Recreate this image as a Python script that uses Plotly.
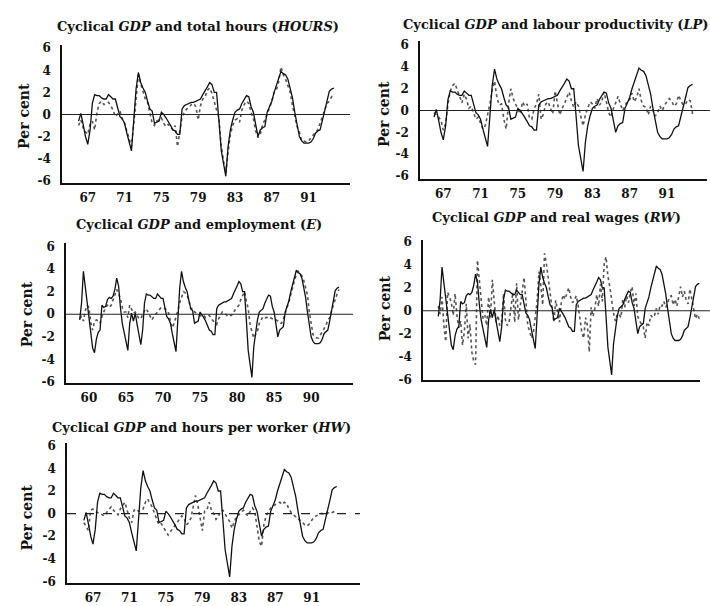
import pandas as pd
import plotly.graph_objects as go

W, H = 710, 606
FONT = "DejaVu Serif"


def quarters(start, end):
    per = pd.period_range(start, end, freq="Q")
    return [p.year + (p.quarter - 1) / 4 for p in per]


long_q = quarters("1958Q4", "1993Q4")
short_q = quarters("1966Q1", "1993Q4")

# Cyclical GDP, per cent deviation from trend, 1958Q4-1993Q4
gdp = [
    -0.5,
    1.0, 3.8, 2.4, 0.8,
    -0.5, -2.0, -3.0, -3.4,
    -2.2, -1.6, -1.4, 0.8,
    0.6, 0.7, 1.3, 1.5,
    1.4, 1.6, 2.2, 3.2,
    2.5, 0.6, -0.8, -1.6,
    -2.4, -3.2, -0.8, 0.1,
    -0.6, 0.1, -0.9, -2.0,
    -2.7, -1.4, 1.0, 1.8,
    1.7, 1.7, 1.5, 1.4,
    1.4, 1.8, 1.6, 1.4,
    1.4, 0.6, -0.2, -0.4,
    -0.8, -1.7, -2.6, -3.3,
    -0.5, 2.3, 3.8, 2.9,
    2.4, 2.0, 1.2, 0.5,
    0.3, -0.8, -0.7, -0.6,
    0.2, 0.0, -0.3, -0.6,
    -1.0, -1.4, -1.5, -1.8,
    -1.8, 0.5, 0.8, 0.9,
    1.0, 1.1, 1.1, 1.2,
    1.3, 1.4, 1.8, 2.1,
    2.5, 2.9, 2.7, 2.0,
    2.0, -0.5, -3.2, -4.4,
    -5.6, -2.9, -1.4, -0.5,
    0.2, 0.4, 0.5, 1.0,
    1.4, 1.7, 1.6, 0.7,
    0.2, -1.0, -2.0, -1.4,
    -1.2, -1.1, 0.2, 0.7,
    1.2, 2.0, 2.6, 3.3,
    3.9, 3.7, 3.6, 3.2,
    2.3, 1.5, 0.2, -0.8,
    -2.0, -2.4, -2.6, -2.6,
    -2.6, -2.5, -2.2, -1.7,
    -1.5, -1.4, -0.6, 0.2,
    1.2, 2.1, 2.3, 2.4,
]
gdp_short = gdp[29:]  # from 1966Q1

# Total hours, 1966Q1-1993Q4
hours = [
    -1.0, -0.5, -1.2, -1.6,
    -1.8, -0.9, -0.6, -1.4,
    0.2, 1.0, 1.2, 0.9,
    1.0, 1.1, 0.8, 0.4,
    -0.2, 0.1, 0.3, -0.4,
    -0.8, -1.5, -2.2, -2.9,
    -0.8, 1.8, 3.6, 2.8,
    2.0, 1.4, 1.1, 0.2,
    -0.8, -1.0, -0.6, -0.5,
    -0.3, -0.8, -1.1, -0.9,
    -1.2, -1.4, -1.0, -2.9,
    -1.6, -0.2, 0.2, 0.5,
    0.6, 0.9, 1.0, 0.7,
    -0.5, 0.8, 1.4, 1.6,
    2.2, 2.4, 1.9, 1.0,
    0.4, -0.3, -2.8, -4.2,
    -5.3, -3.4, -1.8, -1.0,
    -0.5, -0.4, -0.7, 0.4,
    0.9, 1.2, 1.0, 0.2,
    -0.4, -1.5, -2.1, -1.8,
    -0.9, -0.5, 0.0, 0.6,
    1.2, 2.0, 2.2, 3.0,
    4.3, 3.6, 3.2, 2.6,
    2.0, 0.8, -0.2, -1.1,
    -1.6, -2.4, -2.4, -2.5,
    -2.4, -2.1, -1.9, -1.6,
    -1.4, -0.8, -0.2, 0.4,
    1.0, 1.2, 1.6, 1.4,
]

# Labour productivity, 1966Q1-1993Q4
lp = [
    -0.2, -0.4, -0.6, -0.9,
    -1.8, -1.2, 0.6, 1.8,
    2.3, 2.5, 1.9, 1.2,
    0.7, 1.5, 1.0, 0.2,
    0.4, -0.2, -0.8, -0.6,
    -1.2, -1.7, -1.4, -0.5,
    0.6, 1.9, 2.7, 1.2,
    0.5, 0.6, -0.8, -1.7,
    0.6, 2.0, 1.1, 0.6,
    0.2, -0.3, 0.8, 0.4,
    0.6, -0.7, -0.8, 0.2,
    0.6, 1.5, -0.8, -0.3,
    0.6, 0.8, 0.2, -0.3,
    1.8, 0.6, -0.4, 0.2,
    0.6, 1.2, 1.7, 0.9,
    0.3, 0.8, 0.4, -0.5,
    -1.4, -0.4, 0.3, 0.8,
    0.6, 0.2, 1.1, 0.5,
    0.8, 1.7, 0.8, -0.2,
    -0.6, 0.2, 0.7, 1.3,
    0.6, 0.0, 0.4, 0.9,
    1.0, 1.6, 0.8, 1.2,
    2.0, 0.9, 0.4, 0.3,
    -0.4, 0.4, 0.0, -0.5,
    -0.2, 0.4, 0.0, 0.5,
    0.8, 1.1, 0.9, 0.4,
    0.6, 1.4, 0.9, 0.5,
    0.6, 1.0, 0.9, -0.3,
]

# Employment, 1958Q4-1993Q4
emp = [
    -0.4,
    -0.2, -0.6, 0.3, 0.8,
    0.6, -0.8, -1.4, -0.6,
    -0.5, -0.6, -0.8, -0.2,
    0.3, 0.6, 0.8, 0.6,
    0.8, 1.3, 1.8, 2.2,
    1.8, 1.4, 0.6, 0.2,
    0.2, -0.3, 0.8, 0.4,
    0.1, 0.2, -0.1, -0.4,
    -0.4, 0.0, 0.3, 0.5,
    0.2, -0.2, -0.5, -0.2,
    0.0, 0.2, 0.4, 0.6,
    0.5, 0.5, 0.4, 0.1,
    -0.6, -1.2, -0.8, -0.3,
    0.3, 1.0, 1.6, 2.0,
    1.9, 1.7, 1.2, 0.5,
    0.5, 0.2, 0.1, 0.0,
    -0.1, -0.2, -0.1, -0.3,
    -0.2, -0.1, -0.4, -0.6,
    -0.8, -0.9, -0.4, -0.1,
    0.2, 0.1, 0.0, -0.2,
    -0.1, -0.1, 0.2, 0.4,
    0.6, 0.8, 1.3, 1.7,
    2.0, 1.2, 0.5, -0.9,
    -1.6, -2.1, -1.8, -1.5,
    -0.8, -0.5, -0.2, -0.3,
    -0.3, -0.2, -0.3, -0.4,
    -0.5, -0.5, -0.6, -0.8,
    -0.8, -0.4, 0.2, 0.6,
    1.1, 1.8, 2.5, 3.0,
    3.5, 3.8, 3.6, 3.4,
    3.0, 2.4, 1.7, 0.2,
    -0.8, -1.8, -2.0, -2.1,
    -2.1, -1.8, -1.5, -1.3,
    -1.0, -0.5, -0.3, 0.3,
    0.8, 1.5, 1.8, 2.2,
]

# Real wages, 1958Q4-1993Q4
rw = [
    0.4,
    -0.3, 1.2, -1.3, -2.7,
    1.6, 1.2, 0.7, -0.4,
    1.5, -0.4, -1.5, -0.9,
    -3.0, -1.8, 0.6, -2.4,
    -1.2, -3.6, -4.4, -4.7,
    4.4, 2.7, 0.9, -0.7,
    -0.4, -1.3, 1.2, -0.6,
    2.7, 0.9, -1.0, -0.4,
    -1.3, -1.0, 1.5, -0.8,
    -1.3, -1.0, 0.4, 1.6,
    -1.0, 2.4, -0.8, 0.3,
    1.8, 2.9, 0.9, -1.3,
    -1.8, -2.4, -1.9, -0.6,
    0.8, 3.4, 2.2, 0.5,
    5.0, 4.1, 2.9, 1.5,
    0.2, -1.0, 0.9, -0.1,
    -1.0, 0.7, 1.4, 1.0,
    1.6, 2.0, 1.2, 0.7,
    0.9, 1.3, 0.5, -0.9,
    -1.9, -2.4, -0.6, -1.3,
    -3.6, 0.3, -0.5, 0.2,
    1.4, 0.4, 2.3, 0.8,
    4.1, 4.7, 3.0, 2.1,
    0.7, -0.2, -0.9, -0.3,
    -0.3, -0.6, 1.0, 0.3,
    1.3, 0.7, 1.6, 2.1,
    0.4, 1.5, -0.5, -0.9,
    -1.2, -1.4, -2.4, -1.0,
    -1.3, -0.4, -0.6, -0.4,
    0.2, -0.3, 0.5, 0.4,
    0.8, 0.3, 0.6, 1.2,
    1.3, 0.5, 1.0, 0.4,
    1.4, 2.1, 1.2, 1.7,
    0.9, 0.6, 1.9, 1.1,
    0.4, -0.7, -0.3, -0.7,
]

# Hours per worker, 1966Q1-1993Q4
hw = [
    -0.8, -1.2, -1.5, 0.3,
    0.4, 0.2, 0.1, 0.0,
    -0.1, -0.2, 0.1, 0.4,
    0.6, 0.3, 0.1, -0.1,
    0.4, 0.7, 1.0, 0.3,
    -0.4, -0.8, 0.3, 0.4,
    0.2, 0.3, 0.4, 1.0,
    1.3, 0.9, 0.6, 0.0,
    -0.5, -1.0, -0.9, -1.2,
    -1.5, -1.9, -1.6, -1.3,
    -1.1, -0.8, -0.5, -0.2,
    -0.4, -1.0, -0.8, -0.4,
    0.6, 1.6, 0.8, -0.2,
    -1.5, 0.2, 0.3, 1.0,
    0.3, 0.0, -0.5, -0.3,
    0.2, 0.3, 0.0, -0.4,
    -0.7, -1.3, -0.8, -0.2,
    -0.1, 0.1, 0.3, 0.0,
    -0.2, 0.2, 0.5, 0.2,
    -1.2, -2.5, -2.9, -1.0,
    -0.2, 0.2, 0.5, 0.7,
    0.8, 0.9, 1.0, 0.8,
    1.0, 0.9, 0.4, 0.1,
    -0.1, -0.3, -0.5, -0.6,
    -0.8, -1.0, -1.1, -0.9,
    -0.6, -0.3, -0.2, -0.1,
    0.0, 0.0, 0.1, 0.1,
    0.0, 0.1, 0.2, 0.1,
]

y_ticks = [-6, -4, -2, 0, 2, 4, 6]
y_labels = ["-6", "-4", "-2", "0", "2", "4", "6"]
x_ticks_a = [1967, 1971, 1975, 1979, 1983, 1987, 1991]
x_labels_a = ["67", "71", "75", "79", "83", "87", "91"]
x_ticks_b = [1960, 1965, 1970, 1975, 1980, 1985, 1990]
x_labels_b = ["60", "65", "70", "75", "80", "85", "90"]

panels = [
    dict(title="<b>Cyclical <i>GDP</i> and total hours (<i>HOURS</i>)</b>",
         x=short_q, a=gdp_short, b=hours,
         box=(62, 42, 350, 182), yr=[-6.18, 6.27], xr=[1964.2, 1995.5],
         xt=(x_ticks_a, x_labels_a), tpos=(198, 23), lpos=(24, 114),
         zero_end=1.0, zero_dash="solid"),
    dict(title="<b>Cyclical <i>GDP</i> and labour productivity (<i>LP</i>)</b>",
         x=short_q, a=gdp_short, b=lp,
         box=(420, 38, 707, 178), yr=[-6.27, 6.36], xr=[1964.5, 1995.3],
         xt=(x_ticks_a, x_labels_a), tpos=(555, 21), lpos=(384, 112),
         zero_end=1.01, zero_dash="solid"),
    dict(title="<b>Cyclical <i>GDP</i> and employment (<i>E</i>)</b>",
         x=long_q, a=gdp, b=emp,
         box=(66, 243, 353, 386), yr=[-6.09, 6.35], xr=[1956.9, 1995.65],
         xt=(x_ticks_b, x_labels_b), tpos=(199, 225), lpos=(27, 316),
         zero_end=1.0, zero_dash="solid"),
    dict(title="<b>Cyclical <i>GDP</i> and real wages (<i>RW</i>)</b>",
         x=long_q, a=gdp, b=rw,
         box=(423, 240, 700, 383), yr=[-6.05, 6.2], xr=[1956.7, 1993.85],
         xt=None, tpos=(556, 217), lpos=(385, 310),
         zero_end=1.036, zero_dash="solid"),
    dict(title="<b>Cyclical <i>GDP</i> and hours per worker (<i>HW</i>)</b>",
         x=short_q, a=gdp_short, b=hw,
         box=(67, 447, 360, 590), yr=[-6.17, 6.26], xr=[1964.15, 1996.3],
         xt=(x_ticks_a, x_labels_a), tpos=(201, 431), lpos=(27, 523),
         zero_end=1.0, zero_dash="dash"),
]

fig = go.Figure()
layout = dict(
    width=W, height=H,
    margin=dict(l=0, r=0, t=0, b=0),
    paper_bgcolor="white", plot_bgcolor="white",
    showlegend=False,
    font=dict(family=FONT, color="#111"),
    annotations=[], shapes=[],
)

tick_font = dict(family=FONT, size=12, color="#111", weight="bold")

for i, p in enumerate(panels, start=1):
    sfx = "" if i == 1 else str(i)
    xa, ya = "x" + sfx, "y" + sfx
    left, top, right, bottom = p["box"]

    fig.add_trace(go.Scatter(
        x=p["x"], y=p["b"], mode="lines", xaxis=xa, yaxis=ya,
        line=dict(color="#555", width=1.6, dash="dot"), hoverinfo="skip"))
    fig.add_trace(go.Scatter(
        x=p["x"], y=p["a"], mode="lines", xaxis=xa, yaxis=ya,
        line=dict(color="#111", width=1.3), hoverinfo="skip"))

    xaxis = dict(
        domain=[left / W, right / W], anchor=ya, range=p["xr"],
        showgrid=False, zeroline=False, showline=True,
        linecolor="#111", linewidth=1.6, ticks="",
        tickfont=tick_font, ticklabelstandoff=3, fixedrange=True,
    )
    if p["xt"] is None:
        xaxis["showticklabels"] = False
    else:
        xaxis["tickmode"] = "array"
        xaxis["tickvals"] = p["xt"][0]
        xaxis["ticktext"] = p["xt"][1]
    yaxis = dict(
        domain=[1 - bottom / H, 1 - top / H], anchor=xa, range=p["yr"],
        showgrid=False, zeroline=False, showline=True,
        linecolor="#111", linewidth=1.6, ticks="",
        tickmode="array", tickvals=y_ticks, ticktext=y_labels,
        tickfont=tick_font, ticklabelstandoff=7, fixedrange=True,
    )
    layout["xaxis" + sfx] = xaxis
    layout["yaxis" + sfx] = yaxis

    layout["shapes"].append(dict(
        type="line", xref=xa + " domain", yref=ya,
        x0=0, x1=p["zero_end"], y0=0, y1=0,
        line=dict(color="#222", width=1.1, dash=p["zero_dash"])))

    tx, ty = p["tpos"]
    layout["annotations"].append(dict(
        text=p["title"], xref="paper", yref="paper",
        x=tx / W, y=1 - ty / H, xanchor="center", yanchor="middle",
        showarrow=False, font=dict(family=FONT, size=13, color="#111")))
    lx, ly = p["lpos"]
    layout["annotations"].append(dict(
        text="<b>Per cent</b>", xref="paper", yref="paper", textangle=-90,
        x=lx / W, y=1 - ly / H, xanchor="center", yanchor="middle",
        showarrow=False, font=dict(family=FONT, size=14, color="#111")))

fig.update_layout(**layout)
fig.write_html("out.html")
